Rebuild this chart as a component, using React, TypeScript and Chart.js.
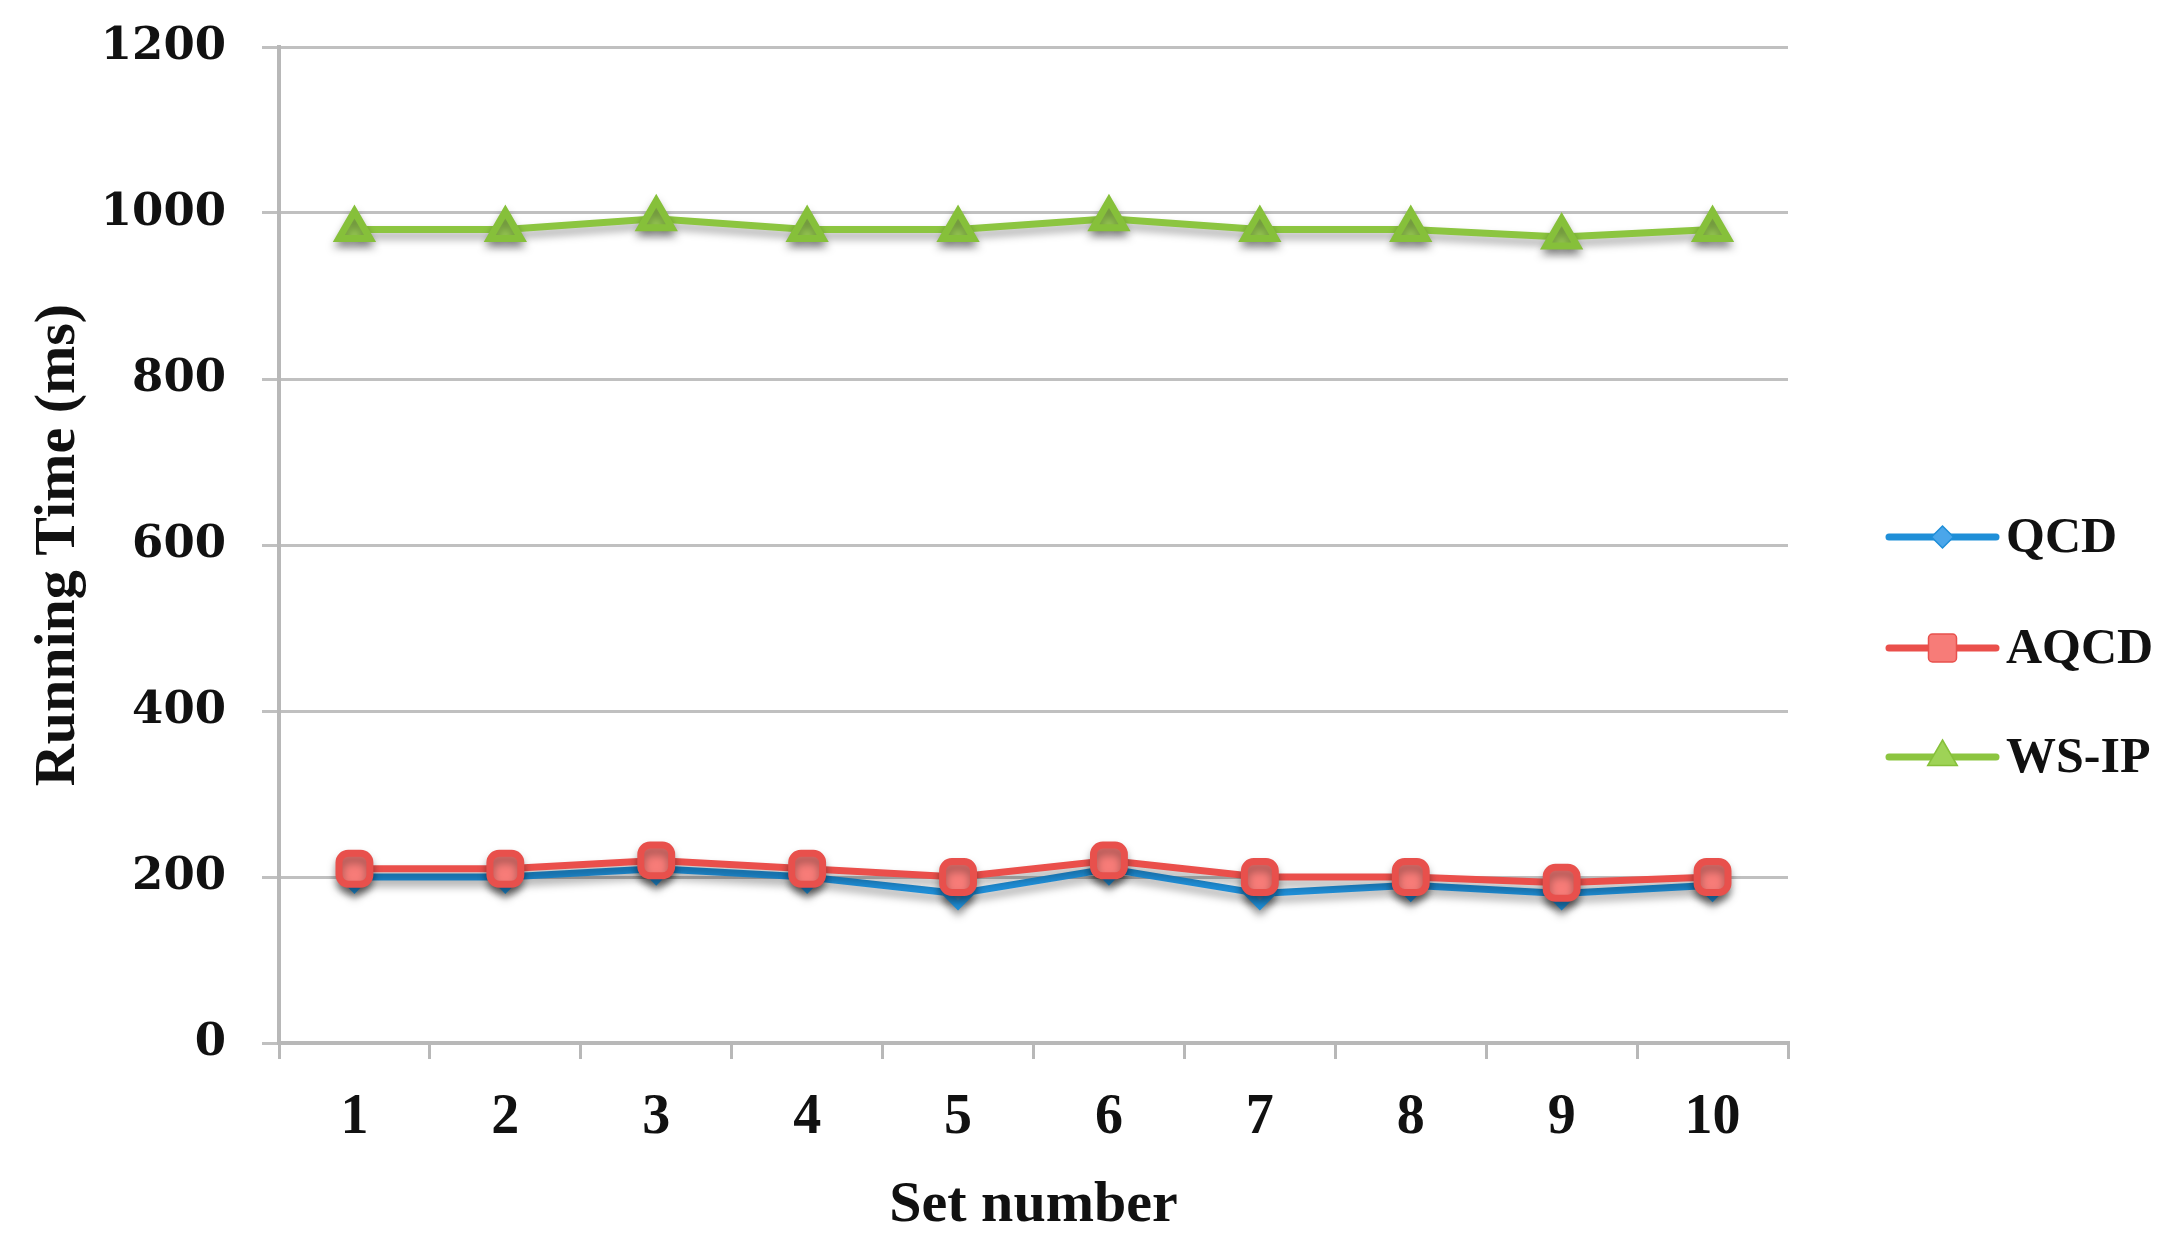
import React, { useEffect, useRef } from "react";
import { Chart, registerables } from "chart.js";

Chart.register(...registerables);

const categories = ["1", "2", "3", "4", "5", "6", "7", "8", "9", "10"];
const qcd = [200, 200, 210, 200, 180, 210, 180, 190, 180, 190];
const aqcd = [210, 210, 220, 210, 200, 220, 200, 200, 193, 200];
const wsip = [980, 980, 993, 980, 980, 993, 980, 980, 971, 980];
const seriesNames = ["QCD", "AQCD", "WS-IP"];
const yTicks = [0, 200, 400, 600, 800, 1000, 1200];

const W = 2168;
const H = 1255;
const PAD_LEFT = 24;
const LEFT = 279;
const RIGHT = 1788;
const TOP_PAD = 47;
const BOTTOM = 1043;

const shadowPlugin = {
  id: "markerShadow",
  beforeDatasetsDraw(chart: any) {
    const ctx = chart.ctx;
    ctx.save();
    ctx.shadowColor = "rgba(0,0,0,0.35)";
    ctx.shadowBlur = 8;
    ctx.shadowOffsetX = 0;
    ctx.shadowOffsetY = 6;
  },
  afterDatasetsDraw(chart: any) {
    chart.ctx.restore();
  },
};

const legendPlugin = {
  id: "lineLegend",
  afterDraw(chart: any) {
    const ctx = chart.ctx;
    const ys = [537, 648, 757];
    const x1 = 1889;
    const x2 = 1996;
    chart.data.datasets.forEach((ds: any, i: number) => {
      const y = ys[i];
      ctx.save();
      ctx.strokeStyle = ds.borderColor;
      ctx.lineWidth = 7;
      ctx.lineCap = "round";
      ctx.beginPath();
      ctx.moveTo(x1, y);
      ctx.lineTo(x2, y);
      ctx.stroke();
      const cx = (x1 + x2) / 2;
      ctx.fillStyle = ds.pointBackgroundColor;
      ctx.strokeStyle = ds.pointBorderColor;
      ctx.lineWidth = 1.5;
      if (ds.pointStyle === "rectRot") {
        const r = 11;
        ctx.beginPath();
        ctx.moveTo(cx, y - r);
        ctx.lineTo(cx + r, y);
        ctx.lineTo(cx, y + r);
        ctx.lineTo(cx - r, y);
        ctx.closePath();
        ctx.fill();
        ctx.stroke();
      } else if (ds.pointStyle === "rectRounded") {
        const s = 14;
        ctx.beginPath();
        (ctx as any).roundRect(cx - s, y - s, 2 * s, 2 * s, 4);
        ctx.fill();
        ctx.stroke();
      } else {
        const r = 17;
        ctx.beginPath();
        ctx.moveTo(cx, y - r);
        ctx.lineTo(cx + r * 0.87, y + r * 0.5);
        ctx.lineTo(cx - r * 0.87, y + r * 0.5);
        ctx.closePath();
        ctx.fill();
        ctx.stroke();
      }
      ctx.fillStyle = "#111";
      ctx.font = "bold 50px 'Liberation Serif'";
      ctx.textAlign = "left";
      ctx.textBaseline = "middle";
      ctx.fillText(ds.label, 2006, y + 2);
      ctx.restore();
    });
  },
};

export default function App() {
  const ref = useRef<HTMLCanvasElement | null>(null);
  useEffect(() => {
    document.body.style.margin = "0";
    const canvas = ref.current!;
    const chart = new Chart(canvas, {
      type: "line",
      data: {
        labels: categories,
        datasets: [
          {
            label: seriesNames[0],
            data: qcd,
            borderColor: "#1f8fd8",
            backgroundColor: "#1f8fd8",
            pointBackgroundColor: "#4aa6ea",
            pointBorderColor: "#1f8fd8",
            pointStyle: "rectRot",
            pointRadius: 12,
            borderWidth: 7,
            order: 3,
          },
          {
            label: seriesNames[1],
            data: aqcd,
            borderColor: "#ea4f4b",
            backgroundColor: "#ea4f4b",
            pointBackgroundColor: "#f77c78",
            pointBorderColor: "#e8504c",
            pointStyle: "rectRounded",
            pointRadius: 18,
            borderWidth: 7,
            order: 2,
          },
          {
            label: seriesNames[2],
            data: wsip,
            borderColor: "#8cc540",
            backgroundColor: "#8cc540",
            pointBackgroundColor: "#9ed356",
            pointBorderColor: "#86c03a",
            pointStyle: "triangle",
            pointRadius: 18,
            borderWidth: 7,
            order: 1,
          },
        ] as any,
      },
      options: {
        animation: false,
        responsive: false,
        maintainAspectRatio: false,
        layout: { padding: { left: PAD_LEFT, top: TOP_PAD, right: W - RIGHT, bottom: 0 } },
        plugins: {
          legend: { display: false },
          tooltip: { enabled: false },
        },
        elements: { line: { tension: 0 } },
        scales: {
          x: {
            type: "category",
            offset: true,
            grid: {
              display: true,
              offset: true,
              drawOnChartArea: false,
              drawTicks: true,
              tickLength: 16,
              color: "#b8b8b8",
              lineWidth: 3,
            },
            border: { display: true, color: "#b8b8b8", width: 4 },
            ticks: {
              color: "#111",
              font: { family: "'Liberation Serif'", size: 56, weight: "bold" },
              padding: 26,
              maxRotation: 0,
            },
            title: {
              display: true,
              text: "Set number",
              color: "#111",
              font: { family: "'Liberation Serif'", size: 58, weight: "bold" },
              padding: { top: 0, bottom: 14 },
            },
            afterFit(scale: any) {
              scale.height = H - BOTTOM;
              scale.paddingLeft = 0;
              scale.paddingRight = 0;
            },
          },
          y: {
            min: 0,
            max: 1200,
            afterBuildTicks(scale: any) {
              scale.ticks = yTicks.map((v) => ({ value: v }));
            },
            grid: {
              color: "#c0c0c0",
              lineWidth: 3,
              drawTicks: true,
              tickLength: 17,
            },
            border: { display: true, color: "#b8b8b8", width: 4 },
            ticks: {
              color: "#111",
              font: { family: "'DejaVu Serif'", size: 45, weight: "bold" },
              padding: 36,
              callback: (v: any) => String(v),
            },
            title: {
              display: true,
              text: "Running Time (ms)",
              color: "#111",
              font: { family: "'Liberation Serif'", size: 58, weight: "bold" },
              padding: { top: 0, bottom: 0 },
            },
            afterFit(scale: any) {
              scale.width = LEFT - PAD_LEFT;
              scale.paddingTop = 0;
              scale.paddingBottom = 0;
            },
          },
        },
      },
      plugins: [shadowPlugin, legendPlugin],
    } as any);
    return () => chart.destroy();
  }, []);
  return (
    <div style={{ position: "fixed", left: 0, top: 0, width: W, height: H, background: "#fff" }}>
      <canvas ref={ref} width={W} height={H} style={{ width: W, height: H, display: "block" }} />
    </div>
  );
}
